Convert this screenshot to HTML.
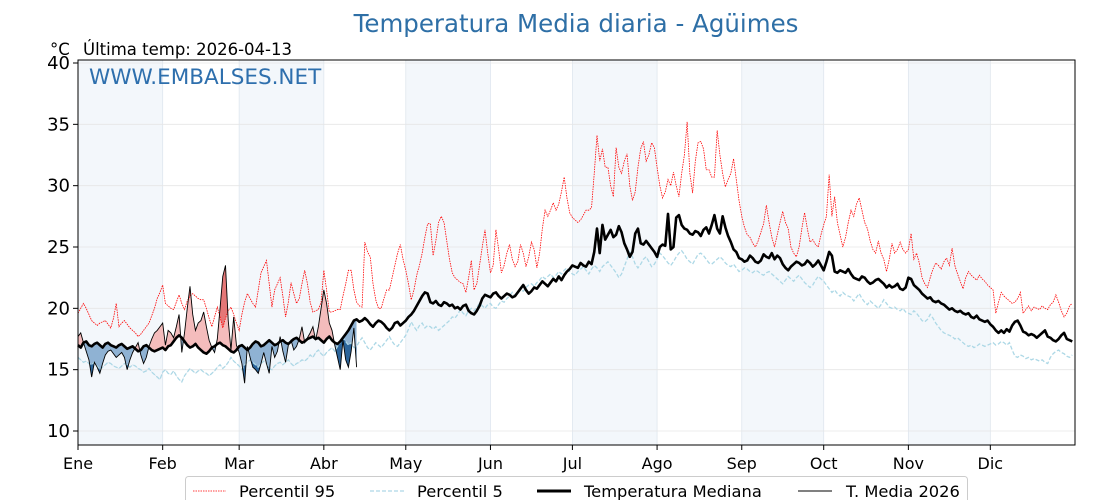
<!DOCTYPE html>
<html><head><meta charset="utf-8"><style>
body{margin:0;background:#fff}
svg{display:block;font-family:"DejaVu Sans","Liberation Sans",sans-serif}
</style></head><body>
<svg id="chart" width="1120" height="500" viewBox="0 0 1120 500">
<text x="576" y="32" text-anchor="middle" font-size="24.5" fill="#2e6fa6">Temperatura Media diaria - Agüimes</text>
<text x="50" y="55" font-size="16.5" fill="#000">°C</text>
<text x="83" y="55" font-size="16.5" fill="#000">Última temp: 2026-04-13</text>
<g id="bands"></g><g id="grid"></g><g id="fills"></g><g id="lines"></g><g id="axes"></g>
<text x="89" y="84" font-size="21.5" fill="#2e6fad">WWW.EMBALSES.NET</text>
<g>
<rect x="185.5" y="476.5" width="782" height="30" rx="3" fill="#fff" stroke="#ccc"/>
<g><line x1="193" y1="491" x2="226" y2="491" stroke="#f00" stroke-width="0.8" stroke-dasharray="1.5,1"/><text x="239" y="497" font-size="16.3">Percentil 95</text></g>
<g><line x1="370" y1="491" x2="404" y2="491" stroke="#add8e6" stroke-width="1.2" stroke-dasharray="4,2"/><text x="417" y="497" font-size="16.3">Percentil 5</text></g>
<g><line x1="537" y1="491" x2="571" y2="491" stroke="#000" stroke-width="3"/><text x="584" y="497" font-size="16.3">Temperatura Mediana</text></g>
<g><line x1="798" y1="491" x2="832" y2="491" stroke="#000" stroke-width="1"/><text x="846" y="497" font-size="16.3">T. Media 2026</text></g>
</g>
</svg>
<script>
const monthLabels=["Ene","Feb","Mar","Abr","May","Jun","Jul","Ago","Sep","Oct","Nov","Dic"];
const monthDays=[31,28,31,30,31,30,31,31,30,31,30,31];
const yTicks=[10,15,20,25,30,35,40];
const median=[17.0,16.8,17.2,17.3,17.0,16.9,17.1,17.2,17.0,16.8,17.1,17.2,17.0,16.9,16.8,17.0,17.1,16.9,16.7,16.8,16.9,16.7,16.5,16.6,16.9,17.0,16.8,16.6,16.5,16.6,16.7,
16.8,16.6,16.9,17.0,17.3,17.6,17.8,17.6,17.3,17.0,16.8,16.9,17.1,16.8,16.6,16.4,16.3,16.5,16.8,16.9,17.1,17.2,17.0,16.9,16.7,16.5,16.4,16.6,
16.9,17.0,16.8,16.6,16.8,17.1,17.3,17.2,16.9,17.0,17.2,17.4,17.2,17.0,17.1,17.3,17.4,17.2,17.1,17.3,17.5,17.6,17.4,17.2,17.3,17.5,17.6,17.7,17.5,17.6,17.4,
17.2,17.5,17.7,17.4,17.2,17.1,17.3,17.6,17.9,18.2,18.6,19.0,19.1,18.9,19.0,19.2,19.0,18.7,18.5,18.8,19.0,18.9,18.7,18.4,18.2,18.4,18.8,18.9,18.6,18.8,
19.0,19.3,19.5,19.8,20.2,20.6,21.0,21.3,21.2,20.5,20.4,20.6,20.3,20.2,20.5,20.4,20.2,20.3,20.0,20.1,19.9,20.2,20.3,19.8,19.6,19.5,19.8,20.2,20.8,21.1,21.0,
20.9,21.2,21.3,21.0,20.8,21.0,21.2,21.1,20.9,21.0,21.3,21.6,21.9,21.5,21.2,21.4,21.7,21.6,21.9,22.2,22.0,21.8,22.1,22.4,22.2,22.6,22.3,22.7,23.0,23.2,
23.5,23.4,23.3,23.7,23.5,23.4,23.8,23.6,24.6,26.5,24.5,26.8,25.6,26.0,26.4,25.8,26.0,26.7,26.2,25.3,24.8,24.2,24.6,26.1,26.5,25.3,25.2,25.5,25.2,24.9,24.6,
24.2,25.0,25.2,25.1,27.7,24.8,25.0,27.4,27.6,26.8,26.5,26.4,26.1,26.0,26.3,26.2,25.9,26.4,26.6,26.1,26.8,27.6,26.5,26.1,27.5,26.6,25.9,25.4,24.8,24.6,24.1,
24.0,23.8,23.9,24.3,24.1,23.8,23.7,23.9,24.4,24.2,24.1,24.5,24.0,24.3,24.1,23.6,23.3,23.1,23.4,23.6,23.8,23.7,23.5,23.6,23.9,23.7,23.4,23.6,23.9,23.5,
23.1,23.8,24.6,24.3,23.0,22.9,23.1,23.0,22.9,23.2,22.8,22.5,22.4,22.3,22.6,22.5,22.2,22.0,22.1,22.3,22.4,22.2,22.0,21.7,21.9,21.7,21.8,22.0,21.6,21.5,21.7,
22.5,22.4,21.9,21.7,21.5,21.2,21.0,20.8,20.9,20.6,20.5,20.6,20.4,20.3,20.1,19.9,20.0,19.8,19.7,19.8,19.6,19.5,19.6,19.3,19.2,19.4,19.1,19.0,18.9,19.0,
18.7,18.5,18.2,18.0,18.2,18.0,18.3,18.1,18.6,18.9,19.0,18.6,18.1,18.0,17.8,17.9,17.8,17.6,17.8,18.0,18.2,17.7,17.6,17.4,17.3,17.5,17.8,18.0,17.5,17.4,17.3];
const p95=[19.6,20.0,20.4,20.0,19.5,19.0,18.8,18.6,18.8,18.9,19.0,18.7,18.4,19.2,20.4,18.5,18.8,19.0,18.7,18.4,18.2,18.0,17.7,17.9,18.2,18.5,18.8,19.4,20.0,20.8,21.3,
21.9,20.4,20.2,20.0,19.9,20.5,21.1,20.4,19.9,20.6,21.0,21.2,21.0,20.8,20.7,20.7,20.0,19.2,18.5,19.3,20.1,19.3,18.4,19.2,19.8,20.1,19.5,18.8,
18.2,19.5,20.5,21.2,20.8,20.4,20.1,21.5,22.9,23.4,23.9,22.0,20.1,21.5,22.0,22.5,21.0,19.3,20.5,22.1,21.2,20.4,20.8,22.0,23.1,22.0,20.5,19.7,19.8,19.9,20.5,
23.1,21.5,19.7,19.7,19.8,19.9,19.9,21.0,22.0,23.1,23.1,21.5,20.5,20.2,20.1,25.4,24.6,24.2,22.0,20.7,20.0,20.0,20.8,21.5,21.5,22.5,23.5,24.5,25.2,24.0,
23.1,22.0,20.7,21.5,22.7,23.5,24.5,25.8,26.9,26.9,24.3,25.5,27.0,27.5,27.0,25.5,24.0,22.9,22.5,22.3,22.1,22.0,21.3,22.5,23.9,21.5,22.0,23.5,25.0,26.4,24.5,
22.9,23.5,26.4,24.8,22.9,23.5,24.5,25.2,24.0,23.4,23.8,25.2,24.5,23.4,24.2,25.4,24.8,23.3,24.5,26.5,28.0,27.5,28.0,28.6,28.0,28.5,29.5,30.7,29.0,27.8,
27.4,27.2,27.0,27.2,27.6,28.0,28.0,28.2,31.0,34.1,32.0,33.0,31.5,31.5,30.0,29.1,33.1,31.5,31.0,32.0,32.6,30.0,28.8,29.5,31.5,33.0,33.6,32.0,32.5,33.5,33.1,
31.5,30.0,29.0,29.5,30.5,30.0,31.1,30.0,29.1,31.0,32.5,35.2,31.0,29.4,32.0,33.5,33.6,33.0,31.3,31.3,30.7,30.7,34.5,32.5,31.0,29.9,30.5,31.0,32.2,30.5,28.8,
27.5,26.6,26.0,25.8,25.3,25.0,25.5,26.2,26.9,28.4,27.0,25.8,25.0,26.0,27.0,27.9,27.0,26.5,25.0,24.5,24.2,25.0,26.5,27.8,26.5,25.4,25.6,25.2,25.0,26.0,
26.8,27.5,30.9,27.5,29.1,27.0,26.0,25.0,25.8,27.0,28.0,27.5,28.5,29.0,28.0,27.0,26.5,25.5,24.8,24.5,25.5,24.5,24.0,23.0,24.0,25.3,24.5,24.8,25.4,24.8,24.5,
24.8,26.1,24.0,24.5,23.7,22.5,22.0,21.7,22.5,23.2,23.7,23.5,23.2,23.8,24.1,23.5,24.9,23.5,22.8,22.2,21.6,22.5,23.0,22.7,22.5,22.3,22.7,22.4,22.2,21.9,
21.7,21.5,19.6,20.5,21.3,21.0,20.8,20.6,20.4,20.5,20.8,21.3,19.6,19.9,20.2,19.8,20.1,20.0,19.9,20.2,20.0,19.9,20.3,20.5,21.1,20.5,19.8,19.3,19.6,20.2,20.4];
const p5=[16.0,15.8,15.6,15.7,15.5,15.4,15.6,15.3,15.0,15.2,15.4,15.6,15.5,15.3,15.2,15.1,15.3,15.5,15.4,15.2,15.4,15.3,15.1,15.0,14.8,14.9,15.1,14.8,14.6,14.4,14.2,
14.8,15.0,14.7,14.6,14.9,14.5,14.2,14.0,14.5,14.8,15.1,14.9,14.7,14.9,15.0,14.8,14.7,14.5,14.7,14.9,15.2,15.4,15.1,15.3,15.6,16.0,15.7,15.5,
15.3,15.0,15.4,15.6,15.8,15.6,15.4,15.2,15.5,15.7,15.5,15.1,15.0,15.3,15.5,15.6,15.4,15.6,15.8,15.5,15.3,15.5,15.6,15.8,15.7,15.9,16.2,16.0,16.4,16.6,16.3,
16.1,16.4,16.6,16.8,16.5,16.9,17.2,17.6,17.3,17.0,17.2,16.8,16.9,17.3,17.6,17.2,16.8,16.6,16.9,17.2,17.0,16.8,17.1,17.4,17.7,17.3,17.0,16.9,17.2,17.5,
17.8,18.3,18.9,18.5,18.2,18.6,18.8,18.4,18.6,18.5,18.3,18.5,18.2,18.4,18.6,18.8,19.0,19.3,19.2,19.5,19.9,19.6,19.4,19.8,20.0,19.8,20.1,20.4,20.2,20.0,20.3,
20.4,20.1,20.0,20.3,20.6,20.5,20.8,21.0,21.3,21.0,21.2,21.5,21.4,21.7,21.9,22.0,21.8,22.1,22.3,22.6,22.4,22.6,22.8,22.5,22.7,23.0,22.8,23.1,23.3,23.0,
22.8,22.7,23.0,23.2,23.4,23.1,22.8,23.2,23.5,23.3,23.0,23.4,23.6,23.8,23.5,23.2,22.9,22.5,22.8,23.4,24.0,24.6,24.2,23.6,23.3,23.6,24.0,24.2,23.8,23.4,23.6,
24.0,24.5,24.3,24.0,23.7,23.5,23.8,24.2,24.5,24.7,24.4,24.0,23.8,23.6,24.0,24.4,24.5,24.3,24.0,23.7,23.6,23.8,24.0,24.2,24.0,23.7,23.5,23.4,23.6,23.3,23.0,
23.1,23.3,23.2,23.0,22.9,23.1,23.0,22.8,22.7,22.9,23.0,22.8,22.6,22.4,22.2,22.0,22.3,22.6,22.4,22.2,22.5,22.7,22.4,22.1,21.9,21.7,21.9,22.3,22.6,22.4,
22.2,21.9,21.6,21.3,21.5,21.2,21.0,21.3,21.1,21.0,20.9,20.6,20.9,21.2,20.8,20.5,20.3,20.6,20.4,20.2,20.0,20.3,20.7,20.4,20.1,20.0,20.1,19.9,19.8,20.0,19.7,
19.6,19.5,19.8,19.6,19.3,19.0,18.9,19.1,19.5,19.2,18.8,18.5,18.2,18.0,17.9,17.8,17.7,17.5,17.6,17.4,17.2,17.0,16.9,17.0,16.8,16.9,17.1,17.0,16.9,17.0,
17.1,17.2,17.0,17.1,17.3,17.2,17.0,17.2,16.6,16.1,16.0,16.2,16.1,15.9,16.0,15.8,15.9,15.8,15.7,15.8,15.6,15.5,16.0,16.3,16.5,16.6,16.4,16.3,16.1,16.0,16.2];
const t2026=[17.7,18.0,17.2,16.5,15.8,14.4,15.6,15.2,14.7,15.5,16.2,16.5,16.6,16.3,16.0,16.2,16.4,16.0,15.0,15.8,16.4,16.8,17.2,16.2,15.5,16.0,16.9,17.5,18.0,18.2,18.5,
18.8,17.0,18.2,18.0,17.6,18.5,19.5,16.4,18.0,20.0,21.8,19.5,18.2,18.8,19.0,19.7,18.5,17.4,16.8,16.4,17.5,20.0,22.6,23.5,19.0,16.6,19.3,17.0,
16.4,15.5,13.9,16.9,16.0,15.2,15.0,14.7,15.5,16.4,15.5,14.7,16.9,16.0,16.5,17.7,16.5,15.6,17.0,17.4,16.6,16.9,17.5,18.5,17.2,17.6,18.0,18.5,17.4,18.5,20.0,
21.5,20.4,18.8,18.2,17.0,16.0,15.0,17.4,15.8,15.2,16.5,18.4,15.2];

const NS="http://www.w3.org/2000/svg";
const L=78,R=1075,T=60,B=445;
const nDays=365;
function x(d){return L+d*(R-L)/nDays;}
function y(v){return 431-(v-10)*(368/30);}
function mk(tag,attrs,parent){const e=document.createElementNS(NS,tag);for(const k in attrs)e.setAttribute(k,attrs[k]);parent.appendChild(e);return e;}
const svg=document.getElementById('chart');
const bands=document.getElementById('bands'),grid=document.getElementById('grid'),fills=document.getElementById('fills'),lines=document.getElementById('lines'),axes=document.getElementById('axes');

let start=0;
monthDays.forEach((n,i)=>{
  if(i%2===0){const r=mk('rect',{x:x(start),y:T,width:x(start+n)-x(start),height:B-T,fill:'#f3f7fb'},bands);
    
    }
  const gl=mk('line',{x1:x(start),x2:x(start),y1:T,y2:B,stroke:'#dfe6ee','stroke-width':0.8},grid);
  
  
  mk('line',{x1:x(start),x2:x(start),y1:B,y2:B+5,stroke:'#000'},axes);
  const t=mk('text',{x:x(start),y:469,'text-anchor':'middle','font-size':16},axes);
  t.textContent=monthLabels[i];
  
  
  start+=n;
});
yTicks.forEach(v=>{
  const gl=mk('line',{x1:L,x2:R,y1:y(v),y2:y(v),stroke:'#e6e6e6','stroke-width':0.8},grid);
  
  
  mk('line',{x1:L-5,x2:L,y1:y(v),y2:y(v),stroke:'#000'},axes);
  const t=mk('text',{x:L-8,y:y(v)+6,'text-anchor':'end','font-size':18},axes);
  t.textContent=v;
  
  
});
const frame=mk('rect',{x:L,y:T,width:R-L,height:B-T,fill:'none',stroke:'#000','stroke-width':1},axes);



function pts(arr,n){const s=[];for(let i=0;i<n;i++)s.push(x(i).toFixed(2)+','+y(arr[i]).toFixed(2));return s;}
const n26=t2026.length;
function band(other){return pts(t2026,n26).concat(pts(other,n26).reverse()).join(' ');}
function clipReg(id,arr,above){
  const cp=mk('clipPath',{id:id},svg);
  const p=pts(arr,n26);
  const edge=above?T-10:B+10;
  p.push(x(n26-1)+','+edge);p.unshift(x(0)+','+edge);
  mk('polygon',{points:p.join(' ')},cp);
}
clipReg('aboveMed',median,true);clipReg('belowMed',median,false);
clipReg('aboveP95',p95,true);clipReg('belowP5',p5,false);
const f1=mk('polygon',{points:band(median),fill:'#f4bcbc','clip-path':'url(#aboveMed)'},fills);


const f2=mk('polygon',{points:band(p95),fill:'#e57777','clip-path':'url(#aboveP95)'},fills);


const f3=mk('polygon',{points:band(median),fill:'#8fb2d3','clip-path':'url(#belowMed)'},fills);


const f4=mk('polygon',{points:band(p5),fill:'#2b649a','clip-path':'url(#belowP5)'},fills);



const l95=mk('polyline',{points:pts(p95,nDays).join(' '),fill:'none',stroke:'#f00','stroke-width':0.8,'stroke-dasharray':'1.5,1'},lines);


const l5=mk('polyline',{points:pts(p5,nDays).join(' '),fill:'none',stroke:'#add8e6','stroke-width':1.3,'stroke-dasharray':'4,2'},lines);


const lm=mk('polyline',{points:pts(median,nDays).join(' '),fill:'none',stroke:'#000','stroke-width':2.6,'stroke-linejoin':'round'},lines);


const l26=mk('polyline',{points:pts(t2026,n26).join(' '),fill:'none',stroke:'#000','stroke-width':0.9},lines);


</script>
</body></html>
